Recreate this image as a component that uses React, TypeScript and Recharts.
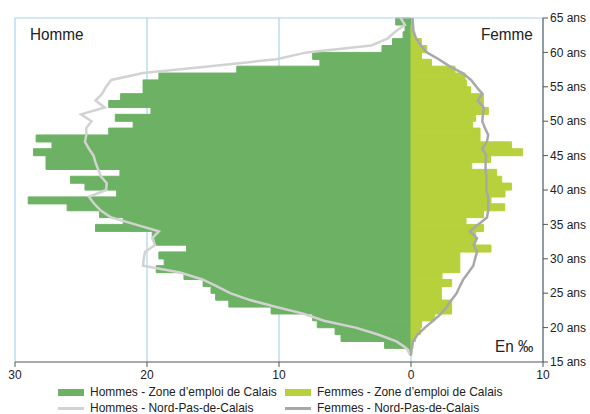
import React from 'react';
import { ComposedChart, Bar, Line, XAxis, YAxis, CartesianGrid, ReferenceLine, Legend } from 'recharts';

// âge révolu, une barre par année
const AGES = [
  15, 16, 17, 18, 19, 20, 21, 22, 23, 24,
  25, 26, 27, 28, 29, 30, 31, 32, 33, 34,
  35, 36, 37, 38, 39, 40, 41, 42, 43, 44,
  45, 46, 47, 48, 49, 50, 51, 52, 53, 54,
  55, 56, 57, 58, 59, 60, 61, 62, 63, 64,
];

// pour mille - zone d'emploi de Calais
const HOMMES_CALAIS = [
  0, 0.1, 2.0, 5.3, 5.75, 7.1, 7.45, 10.6, 13.8, 14.8,
  15.15, 15.75, 17.2, 19.3, 18.7, 19.1, 17.0, 19.4, 19.6, 23.9,
  21.8, 23.6, 26.05, 29.0, 22.3, 24.7, 25.8, 22.05, 27.65, 27.65,
  28.6, 27.2, 28.4, 22.9, 21.05, 22.4, 19.7, 22.9, 22.0, 20.3,
  20.3, 19.1, 13.2, 6.9, 7.45, 2.2, 1.4, 0.6, 0.45, 1.16,
];
const FEMMES_CALAIS = [
  0, 0.05, 0.15, 0.35, 0.7, 0.8, 1.8, 3.08, 3.08, 2.3,
  2.3, 3.08, 2.35, 3.7, 3.7, 3.7, 6.06, 4.9, 4.9, 5.5,
  4.17, 5.5, 7.1, 6.06, 7.12, 7.62, 6.87, 6.49, 4.6, 6.03,
  8.46, 7.62, 5.23, 5.23, 4.67, 4.9, 5.86, 5.48, 5.48, 4.52,
  4.22, 4.09, 3.33, 1.55, 0.8, 1.19, 0.78, 0.3, 0.2, 0,
];

// Nord-Pas-de-Calais, lu au bord haut de chaque tranche (16 ... 65 ans)
const HOMMES_NPDC = [
  0.05, 0.35, 1.1, 2.5, 4.2, 6.6, 8.1, 10.2, 12.2, 13.7,
  14.7, 15.8, 17.5, 20.3, 20.25, 20.15, 19.4, 19.6, 19.1, 20.9,
  22.7, 23.5, 24.0, 24.4, 23.1, 23.05, 23.5, 23.7, 23.9, 24.05,
  24.4, 24.7, 24.6, 24.6, 24.2, 25.0, 23.2, 23.9, 23.4, 23.1,
  22.7, 20.3, 15.2, 10.2, 7.9, 3.0, 1.8, 1.2, 0.45, 0.8,
];
const FEMMES_NPDC = [
  0, 0.05, 0.15, 0.5, 1.06, 1.67, 2.27, 2.7, 3.07, 3.46,
  3.7, 3.96, 4.35, 4.72, 4.85, 5.0, 4.75, 5.0, 4.45, 5.1,
  5.75, 5.85, 5.85, 5.85, 5.7, 5.7, 5.7, 5.65, 5.65, 5.7,
  5.4, 5.75, 5.85, 5.6, 5.4, 5.45, 5.5, 5.05, 5.4, 4.95,
  4.55, 3.9, 2.9, 2.1, 1.2, 0.75, 0.4, 0.18, 0.15, 0.12,
];

const X_TICKS = [-30, -20, -10, 0, 10];
const AGE_TICKS = [15, 20, 25, 30, 35, 40, 45, 50, 55, 60, 65];

const GREEN = '#6db264';
const LIME = '#b6d13b';
const LIGHT_GREY = '#d2d2d2';
const DARK_GREY = '#a8a8a8';
const GRID = '#a9d4ee';
const AXIS = '#555555';
const FONT = '"Liberation Sans", Arial, sans-serif';

const data = AGES.map((age, i) => ({
  age,
  edge: age + 1,
  hommes: -HOMMES_CALAIS[i],
  femmes: FEMMES_CALAIS[i],
  hommesNpdc: -HOMMES_NPDC[i],
  femmesNpdc: FEMMES_NPDC[i],
}));

const LEGEND_ITEMS = [
  { label: 'Hommes - Zone d’emploi de Calais', color: GREEN, kind: 'bar', left: 58, top: 0 },
  { label: 'Femmes - Zone d’emploi de Calais', color: LIME, kind: 'bar', left: 285, top: 0 },
  { label: 'Hommes - Nord-Pas-de-Calais', color: LIGHT_GREY, kind: 'line', left: 58, top: 16 },
  { label: 'Femmes - Nord-Pas-de-Calais', color: DARK_GREY, kind: 'line', left: 285, top: 16 },
];

const renderLegend = () => (
  <div style={{ position: 'relative', width: 590, height: 34, fontFamily: FONT }}>
    {LEGEND_ITEMS.map((item) => (
      <div key={item.label} style={{ position: 'absolute', left: item.left, top: item.top, height: 16, width: 240 }}>
        <span
          style={{
            position: 'absolute',
            left: 0,
            top: item.kind === 'bar' ? 5 : 7,
            width: 26,
            height: item.kind === 'bar' ? 7 : 3,
            background: item.color,
          }}
        />
        <span
          style={{
            position: 'absolute',
            left: 32,
            top: 0,
            fontSize: 13,
            lineHeight: '16px',
            color: '#222',
            whiteSpace: 'nowrap',
            transform: 'scaleX(0.92)',
            transformOrigin: 'left center',
          }}
        >
          {item.label}
        </span>
      </div>
    ))}
  </div>
);

const labelStyle: React.CSSProperties = {
  position: 'absolute',
  fontSize: 17,
  lineHeight: '17px',
  color: '#222',
  whiteSpace: 'nowrap',
  transform: 'scaleX(0.9)',
  transformOrigin: 'left top',
  fontFamily: FONT,
};

const tickStyle = { fontSize: 12, fill: '#222', fontFamily: FONT };

export default function App() {
  return (
    <div style={{ position: 'relative', width: 590, height: 414, fontFamily: FONT }}>
      {/* the chart takes the whole page, so drop the default body margin */}
      <style>{'body { margin: 0; }'}</style>
      <ComposedChart
        width={590}
        height={414}
        data={data}
        layout="vertical"
        stackOffset="sign"
        barCategoryGap={0}
        barGap={0}
        margin={{ top: 18, right: 0, bottom: 0, left: 15 }}
      >
        <CartesianGrid horizontal={false} stroke={GRID} strokeWidth={1.2} yAxisId="num" />
        <XAxis
          type="number"
          domain={[-30, 10]}
          ticks={X_TICKS}
          interval={0}
          height={18}
          stroke={AXIS}
          tickSize={5}
          tickMargin={3}
          tick={tickStyle}
          tickFormatter={(v: number) => String(Math.abs(v))}
          allowDataOverflow
        />
        <YAxis yAxisId="cat" type="category" dataKey="age" reversed hide />
        <YAxis
          yAxisId="num"
          type="number"
          dataKey="edge"
          orientation="right"
          domain={[15, 65]}
          ticks={AGE_TICKS}
          interval={0}
          reversed
          width={47}
          stroke={AXIS}
          tickSize={5}
          tickMargin={2}
          tick={tickStyle}
          tickFormatter={(v: number) => `${v} ans`}
          allowDataOverflow
        />
        <ReferenceLine yAxisId="num" y={65} stroke={GRID} strokeWidth={1.2} />
        <Bar
          yAxisId="cat"
          dataKey="hommes"
          stackId="pyramide"
          fill={GREEN}
          stroke={GREEN}
          strokeWidth={1}
          isAnimationActive={false}
        />
        <Bar
          yAxisId="cat"
          dataKey="femmes"
          stackId="pyramide"
          fill={LIME}
          stroke={LIME}
          strokeWidth={1}
          isAnimationActive={false}
        />
        <Line
          yAxisId="num"
          dataKey="hommesNpdc"
          stroke={LIGHT_GREY}
          strokeWidth={2.5}
          dot={false}
          type="linear"
          isAnimationActive={false}
        />
        <Line
          yAxisId="num"
          dataKey="femmesNpdc"
          stroke={DARK_GREY}
          strokeWidth={2.5}
          dot={false}
          type="linear"
          isAnimationActive={false}
        />
        <Legend
          verticalAlign="bottom"
          content={renderLegend}
          wrapperStyle={{ left: 0, top: 384, width: 590, height: 34 }}
        />
      </ComposedChart>
      <div style={{ ...labelStyle, left: 30, top: 26 }}>Homme</div>
      <div style={{ ...labelStyle, left: 481, top: 26 }}>Femme</div>
      <div style={{ ...labelStyle, left: 495, top: 338 }}>En ‰</div>
    </div>
  );
}
